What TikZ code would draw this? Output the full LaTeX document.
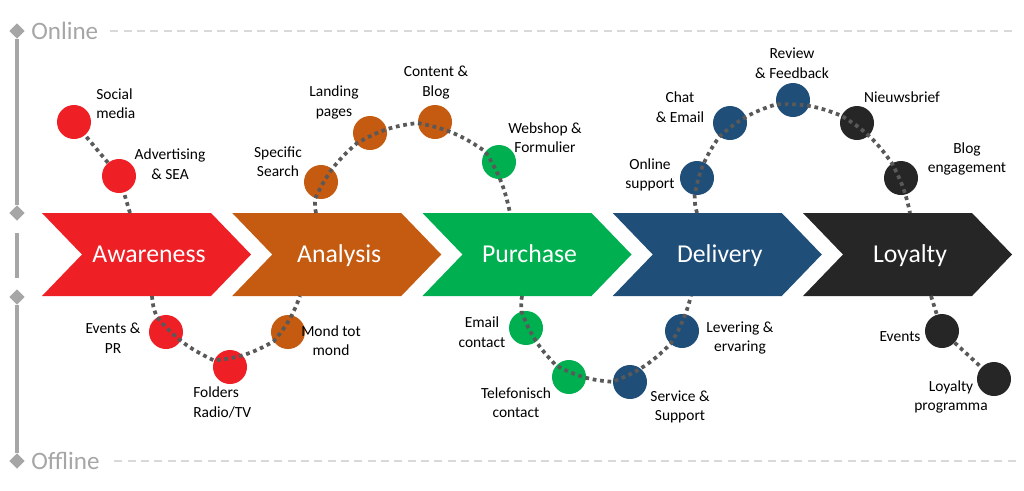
\documentclass[tikz,border=0pt]{standalone}
\usepackage{fontspec}
\setmainfont{Carlito}
\usetikzlibrary{shapes.geometric}
\definecolor{awRed}{HTML}{EE1F25}
\definecolor{anOrange}{HTML}{C55A11}
\definecolor{puGreen}{HTML}{00B050}
\definecolor{deBlue}{HTML}{1F4E79}
\definecolor{loBlack}{HTML}{262626}
\definecolor{axGray}{HTML}{A6A6A6}
\definecolor{guideGray}{HTML}{D9D9D9}
\definecolor{dotGray}{HTML}{595959}

\begin{document}
\begin{tikzpicture}[x=0.75pt, y=-0.75pt,
    touch/.style={circle, fill=#1, minimum size=25.5pt, inner sep=0pt},
    lbl/.style={font=\fontsize{11.6}{14.6}\selectfont, align=center, text=black, inner sep=0pt},
    stagetxt/.style={font=\fontsize{19.3}{22}\selectfont, text=white, inner sep=0pt, anchor=base},
    sidetxt/.style={font=\fontsize{18.8}{22}\selectfont, text=axGray, anchor=west, inner sep=0pt},
    trail/.style={draw=dotGray, line width=2.8pt, dash pattern=on 2.8pt off 2.8pt},
    axisline/.style={draw=axGray, line width=2.6pt},
    tick/.style={diamond, fill=axGray, minimum width=11.5pt, minimum height=11.5pt, inner sep=0pt},
    guide/.style={draw=guideGray, line width=1.5pt, dash pattern=on 6pt off 4pt}]
  \useasboundingbox (0,0) rectangle (1024,490);

  % Axis on the left
  \node[tick] (d1) at (17,31) {};
  \node[tick] (d2) at (17,213) {};
  \node[tick] (d3) at (17,297) {};
  \node[tick] (d4) at (17,461) {};
  \coordinate (m1) at (17,233);
  \coordinate (m2) at (17,278);
  \draw[axisline] (d1) -- (d2);
  \draw[axisline] (m1) -- (m2);
  \draw[axisline] (d3) -- (d4);
  \node[sidetxt] (online) at (31,31) {Online};
  \node[sidetxt] (offline) at (31,461) {Offline};
  \coordinate (onEnd) at (1016,31);
  \coordinate (offEnd) at (1016,461);
  \draw[guide] ([xshift=9pt]online.east) -- (onEnd);
  \draw[guide] ([xshift=11pt]offline.east) -- (offEnd);

  % Stages
  \foreach \i/\col/\txt in {0/awRed/Awareness, 1/anOrange/Analysis, 2/puGreen/Purchase,
                            3/deBlue/Delivery, 4/loBlack/Loyalty} {
    \pgfmathsetmacro{\xo}{42+190.25*\i}
    \fill[\col] (\xo,213) -- ++(169,0) -- ++(40,41.5) -- ++(-40,41.5) -- ++(-169,0) -- ++(40,-41.5) -- cycle;
    \node[stagetxt] (st\i) at (\xo+107,262) {\txt};
  }

  % Points where the trails leave the stages
  \coordinate (awT) at (130,213);
  \coordinate (awB) at (152,296);
  \coordinate (anT) at (316,213);
  \coordinate (anB) at (300,296);
  \coordinate (puT) at (510,213);
  \coordinate (puB) at (522,296);
  \coordinate (deT) at (697,213);
  \coordinate (deB) at (691,296);
  \coordinate (loT) at (910,213);
  \coordinate (loB) at (931,296);

  % Touch points
  \node[touch=awRed] (sm) at (74,122) {};
  \node[touch=awRed] (adv) at (119,176) {};
  \node[touch=awRed] (ev) at (166,332) {};
  \node[touch=awRed] (fo) at (230,367) {};
  \node[touch=anOrange] (ss) at (321,182) {};
  \node[touch=anOrange] (lp) at (370,133) {};
  \node[touch=anOrange] (cb) at (435,122) {};
  \node[touch=anOrange] (mo) at (288,332) {};
  \node[touch=puGreen] (ws) at (499,162) {};
  \node[touch=puGreen] (em) at (526,328) {};
  \node[touch=puGreen] (te) at (569,377) {};
  \node[touch=deBlue] (se) at (630,382) {};
  \node[touch=deBlue] (le) at (682,331) {};
  \node[touch=deBlue] (os) at (697,178) {};
  \node[touch=deBlue] (ce) at (730,123) {};
  \node[touch=deBlue] (rf) at (793,100) {};
  \node[touch=loBlack] (nb) at (857,123) {};
  \node[touch=loBlack] (be) at (901,178) {};
  \node[touch=loBlack] (lev) at (942,331) {};
  \node[touch=loBlack] (lpr) at (994,379) {};

  % Trails
  \draw[trail] (awT) -- (adv) -- (sm);
  \draw[trail] (anT) to[bend left=10] (ss) to[bend left=12] (lp) to[bend left=12] (cb)
               to[bend left=12] (ws) to[bend left=10] (puT);
  \draw[trail] (awB) to[bend right=10] (ev) to[bend right=12] (fo) to[bend right=12] (mo)
               to[bend right=10] (anB);
  \draw[trail] (puB) to[bend right=8] (em) to[bend right=12] (te) to[bend right=12] (se)
               to[bend right=12] (le) to[bend right=8] (deB);
  \draw[trail] (deT) to[bend left=8] (os) to[bend left=12] (ce) to[bend left=12] (rf)
               to[bend left=12] (nb) to[bend left=12] (be) to[bend left=8] (loT);
  \draw[trail] (loB) -- (lev) -- (lpr);

  % Labels
  \node[lbl, align=left, anchor=west] (smL) at (96,103.5) {Social\\media};
  \node[lbl] (advL) at (170,164) {Advertising\\\& SEA};
  \node[lbl] (evL) at (113,338) {Events \&\\PR};
  \node[lbl, align=left, anchor=west] (foL) at (193,402.5) {Folders\\Radio/TV};
  \node[lbl] (ssL) at (278,161.5) {Specific\\Search};
  \node[lbl] (lpL) at (334,102.5) {Landing\\pages};
  \node[lbl] (cbL) at (436,82.5) {Content \&\\Blog};
  \node[lbl] (moL) at (331,340.5) {Mond tot\\mond};
  \node[lbl] (wsL) at (545,137.5) {Webshop \&\\Formulier};
  \node[lbl] (emL) at (482,332) {Email\\contact};
  \node[lbl] (teL) at (516,402.5) {Telefonisch\\contact};
  \node[lbl] (seL) at (680,407) {Service \&\\Support};
  \node[lbl] (leL) at (740,338) {Levering \&\\ervaring};
  \node[lbl] (osL) at (650,175) {Online\\support};
  \node[lbl] (ceL) at (680,107) {Chat\\\& Email};
  \node[lbl] (rfL) at (792,63) {Review\\\& Feedback};
  \node[lbl] (nbL) at (902,97) {Nieuwsbrief};
  \node[lbl] (beL) at (967,159) {Blog\\engagement};
  \node[lbl] (levL) at (900,337) {Events};
  \node[lbl] (lprL) at (951,397) {Loyalty\\programma};
\end{tikzpicture}
\end{document}
